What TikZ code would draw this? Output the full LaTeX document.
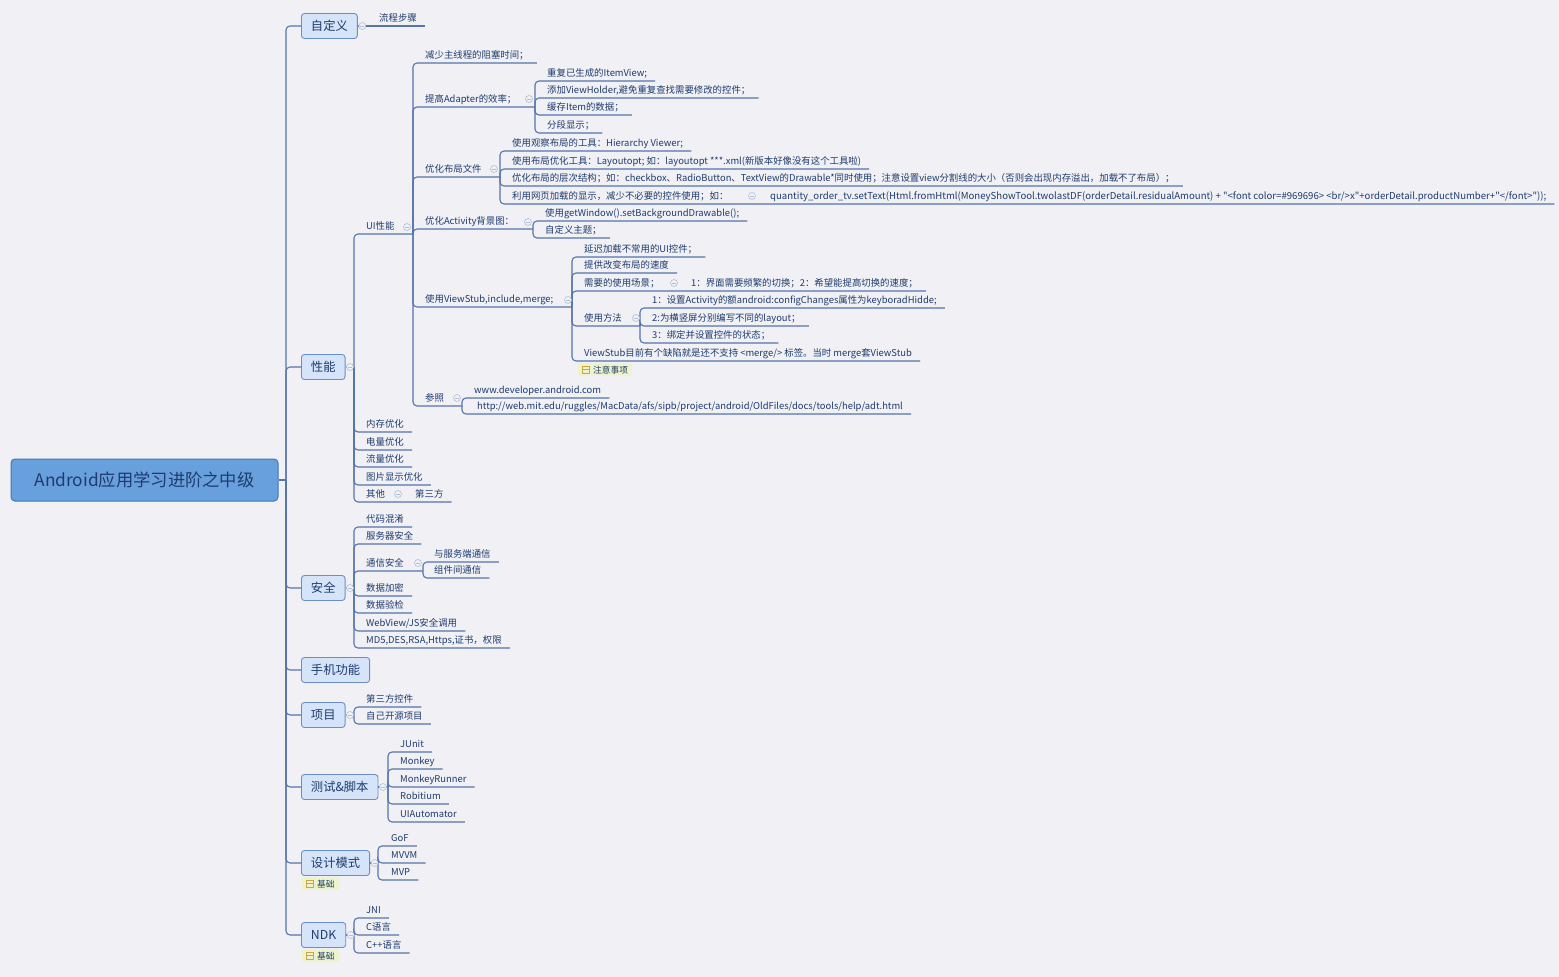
\documentclass[tikz,border=0pt]{standalone}
\usepackage{fontspec}
\setmainfont{Noto Sans CJK SC}
\newfontfamily\plainfont{Noto Sans CJK SC}
\definecolor{bgC}{HTML}{F0F0F5}
\definecolor{lineC}{HTML}{5675AA}
\definecolor{txtC}{HTML}{1E3C6E}
\definecolor{topicF}{HTML}{D5E4F8}
\definecolor{topicD}{HTML}{6A8FC8}
\definecolor{rootF}{HTML}{68A0DD}
\definecolor{rootD}{HTML}{4275B5}
\definecolor{foldC}{HTML}{AFC0DA}
\definecolor{tagC}{HTML}{EDF4CB}
\definecolor{iconC}{HTML}{CFA444}
\tikzset{
  link/.style={draw=lineC,line width=1.1pt,rounded corners=4pt},
  leaf/.style={anchor=south west,inner xsep=0pt,inner ysep=2pt,text height=7pt,text depth=2pt,
    text=txtC,font=\fontsize{9.4}{11}\selectfont},
  topic/.style={anchor=west,draw=topicD,fill=topicF,line width=.9pt,rounded corners=3pt,
    minimum height=25pt,inner xsep=9.5pt,text=txtC,font=\fontsize{12.3}{14}\selectfont},
  rootbox/.style={draw=rootD,fill=rootF,line width=1pt,rounded corners=4pt,minimum width=267pt,
    minimum height=42pt,text=txtC,font=\fontsize{17.3}{20}\selectfont},
  fold/.style={circle,draw=foldC,fill=bgC,line width=.6pt,inner sep=0pt,minimum size=7pt,
    path picture={\draw[foldC,line width=.6pt] ([xshift=-2pt]path picture bounding box.center)
      -- ([xshift=2pt]path picture bounding box.center);}},
  tag/.style={anchor=north west,fill=tagC,inner xsep=4pt,inner ysep=2.5pt,text=txtC,
    font=\fontsize{8.7}{10}\selectfont}
}
\newcommand{\tagicon}[1]{%
  \draw[iconC,line width=.7pt] ([xshift=4pt,yshift=-3.5pt]#1.west) rectangle ([xshift=11pt,yshift=3.5pt]#1.west);
  \draw[iconC,line width=.7pt] ([xshift=4pt]#1.west) -- ([xshift=11pt]#1.west);}

\begin{document}
\begin{tikzpicture}[x=1pt,y=-1pt]
\path[use as bounding box,fill=bgC] (0,0) rectangle (1559,977);

% root and main topics
\node[rootbox] (root) at (144.5,480) {Android应用学习进阶之中级};
\coordinate (rootJ) at (286,480);
\node[topic] (tCustom) at (301,26) {自定义};
\node[topic] (tPerf) at (301,367) {性能};
\node[topic] (tSafe) at (301,588) {安全};
\node[topic] (tPhone) at (301,670) {手机功能};
\node[topic] (tProj) at (301,715) {项目};
\node[topic] (tTest) at (301,787) {测试\&脚本};
\node[topic] (tDesign) at (301,863) {设计模式};
\node[topic] (tNdk) at (301,935) {NDK};
\draw[link] (root.east) -- (rootJ);
\foreach \t in {tCustom,tPerf,tSafe,tPhone,tProj,tTest,tDesign,tNdk}
  \draw[link] (rootJ) |- (\t.west);

% 自定义
\node[leaf] (flow) at (379,26) {流程步骤};
\draw[link] (tCustom.east) -- ([xshift=8pt]flow.south east);

% 性能
\coordinate (perfJ) at (354,367);
\draw[link] (tPerf.east) -- (perfJ);
\node[leaf] (uiPerf) at (366,234) {UI性能};
\coordinate (uiJ) at (413,234);
\draw[link] (perfJ) |- (uiJ);
\foreach \n/\y/\s in {mem/432/内存优化,power/450/电量优化,traffic/467/流量优化,image/485/图片显示优化}{
  \node[leaf] (\n) at (366,\y) {\s};
  \draw[link] (perfJ) |- ([xshift=8pt]\n.south east);
}
\node[leaf] (other) at (366,502) {其他};
\node[leaf] (third) at (415,502) {第三方};
\draw[link] (perfJ) |- ([xshift=8pt]third.south east);

% UI性能
\node[leaf] (reduce) at (425,63) {减少主线程的阻塞时间；};
\draw[link] (uiJ) |- ([xshift=8pt]reduce.south east);
\node[leaf] (adapter) at (425,107) {提高Adapter的效率；};
\coordinate (adapterJ) at (535,107);
\draw[link] (uiJ) |- (adapterJ);
\foreach \n/\y/\s in {repeat/81/重复已生成的ItemView;,holder/98/添加ViewHolder{,}避免重复查找需要修改的控件；,
    cache/115/缓存Item的数据；,segment/133/分段显示；}{
  \node[leaf] (\n) at (547,\y) {\s};
  \draw[link] (adapterJ) |- ([xshift=8pt]\n.south east);
}
\node[leaf] (layout) at (425,177) {优化布局文件};
\coordinate (layoutJ) at (500,177);
\draw[link] (uiJ) |- (layoutJ);
\node[leaf] (hier) at (512,151) {使用观察布局的工具：Hierarchy Viewer;};
\node[leaf] (opt) at (512,169) {使用布局优化工具：Layoutopt; 如：layoutopt ***.xml(新版本好像没有这个工具啦)};
\node[leaf] (level) at (512,186) {优化布局的层次结构；如：checkbox、RadioButton、TextView的Drawable*同时使用；注意设置view分割线的大小（否则会出现内存溢出，加载不了布局）；};
\node[leaf] (web) at (512,204) {利用网页加载的显示，减少不必要的控件使用；如：};
\node[leaf,font=\fontsize{9.6}{11}\plainfont] (code) at (770,204) {quantity\_order\_tv.setText(Html.fromHtml(MoneyShowTool.twolastDF(orderDetail.residualAmount) + "<font color=\#969696> <br/>x"+orderDetail.productNumber+"</font>"));};
\foreach \n in {hier,opt,level}
  \draw[link] (layoutJ) |- ([xshift=8pt]\n.south east);
\draw[link] (layoutJ) |- ([xshift=8pt]code.south east);
\node[leaf] (activity) at (425,229) {优化Activity背景图：};
\coordinate (activityJ) at (533,229);
\draw[link] (uiJ) |- (activityJ);
\node[leaf] (window) at (545,221) {使用getWindow().setBackgroundDrawable();};
\node[leaf] (theme) at (545,238) {自定义主题；};
\foreach \n in {window,theme}
  \draw[link] (activityJ) |- ([xshift=8pt]\n.south east);
\node[leaf] (stub) at (425,307) {使用ViewStub,include,merge;};
\coordinate (stubJ) at (572,307);
\draw[link] (uiJ) |- (stubJ);
\node[leaf] (delay) at (584,257) {延迟加载不常用的UI控件；};
\node[leaf] (speed) at (584,273) {提供改变布局的速度};
\node[leaf] (scene) at (584,291) {需要的使用场景；};
\node[leaf] (sceneInfo) at (691,291) {1：界面需要频繁的切换；2：希望能提高切换的速度；};
\node[leaf] (usage) at (584,326) {使用方法};
\coordinate (usageJ) at (640,326);
\node[leaf] (stubNote) at (584,361) {ViewStub目前有个缺陷就是还不支持 <merge/> 标签。当时 merge套ViewStub};
\foreach \n in {delay,speed,sceneInfo,stubNote}
  \draw[link] (stubJ) |- ([xshift=8pt]\n.south east);
\draw[link] (stubJ) |- (usageJ);
\node[leaf] (use1) at (652,308) {1：设置Activity的额android:configChanges属性为keyboradHidde;};
\node[leaf] (use2) at (652,326) {2:为横竖屏分别编写不同的layout；};
\node[leaf] (use3) at (652,343) {3：绑定并设置控件的状态；};
\foreach \n in {use1,use2,use3}
  \draw[link] (usageJ) |- ([xshift=8pt]\n.south east);
\node[tag] (noteTag) at (578,363) {\hspace*{11pt}注意事项};
\tagicon{noteTag}
\node[leaf] (ref) at (425,406) {参照};
\coordinate (refJ) at (462,406);
\draw[link] (uiJ) |- (refJ);
\node[leaf] (dev) at (474,398) {www.developer.android.com};
\node[leaf] (mit) at (477,414) {http://web.mit.edu/ruggles/MacData/afs/sipb/project/android/OldFiles/docs/tools/help/adt.html};
\foreach \n in {dev,mit}
  \draw[link] (refJ) |- ([xshift=8pt]\n.south east);

% 安全
\coordinate (safeJ) at (354,588);
\draw[link] (tSafe.east) -- (safeJ);
\foreach \n/\y/\s in {obf/527/代码混淆,server/544/服务器安全,encrypt/596/数据加密,verify/613/数据验检,
    webjs/631/{WebView/JS安全调用},md5/648/{MD5,DES,RSA,Https,证书，权限}}{
  \node[leaf] (\n) at (366,\y) {\s};
  \draw[link] (safeJ) |- ([xshift=8pt]\n.south east);
}
\node[leaf] (comm) at (366,571) {通信安全};
\coordinate (commJ) at (423,571);
\draw[link] (safeJ) |- (commJ);
\node[leaf] (commServer) at (434,562) {与服务端通信};
\node[leaf] (commInner) at (434,578) {组件间通信};
\foreach \n in {commServer,commInner}
  \draw[link] (commJ) |- ([xshift=8pt]\n.south east);

% 项目
\coordinate (projJ) at (354,715);
\draw[link] (tProj.east) -- (projJ);
\foreach \n/\y/\s in {widget/707/第三方控件,own/724/自己开源项目}{
  \node[leaf] (\n) at (366,\y) {\s};
  \draw[link] (projJ) |- ([xshift=8pt]\n.south east);
}

% 测试&脚本
\coordinate (testJ) at (388,787);
\draw[link] (tTest.east) -- (testJ);
\foreach \n/\y/\s in {junit/752/JUnit,monkey/769/Monkey,runner/787/MonkeyRunner,robitium/804/Robitium,uiauto/822/UIAutomator}{
  \node[leaf] (\n) at (400,\y) {\s};
  \draw[link] (testJ) |- ([xshift=8pt]\n.south east);
}

% 设计模式
\coordinate (designJ) at (378,863);
\draw[link] (tDesign.east) -- (designJ);
\foreach \n/\y/\s in {gof/846/GoF,mvvm/863/MVVM,mvp/880/MVP}{
  \node[leaf] (\n) at (391,\y) {\s};
  \draw[link] (designJ) |- ([xshift=8pt]\n.south east);
}
\node[tag] (designTag) at (302,877) {\hspace*{11pt}基础};
\tagicon{designTag}

% NDK
\coordinate (ndkJ) at (354,935);
\draw[link] (tNdk.east) -- (ndkJ);
\foreach \n/\y/\s in {jni/918/JNI,clang/935/C语言,cpp/953/C++语言}{
  \node[leaf] (\n) at (366,\y) {\s};
  \draw[link] (ndkJ) |- ([xshift=8pt]\n.south east);
}
\node[tag] (ndkTag) at (302,949) {\hspace*{11pt}基础};
\tagicon{ndkTag}

% fold marks
\foreach \t in {tCustom,tPerf,tSafe,tProj,tTest,tDesign,tNdk}
  \node[fold] (f\t) at ([xshift=4.5pt]\t.east) {};
\node[fold] (fUi) at (407,227) {};
\node[fold] (fOther) at (398,494) {};
\node[fold] (fAdapter) at (529,99) {};
\node[fold] (fLayout) at (494,169) {};
\node[fold] (fWeb) at (752,196) {};
\node[fold] (fActivity) at (528,222) {};
\node[fold] (fStub) at (568,300) {};
\node[fold] (fScene) at (674,283) {};
\node[fold] (fUsage) at (636,318) {};
\node[fold] (fRef) at (457,398) {};
\node[fold] (fComm) at (418,563) {};
\end{tikzpicture}
\end{document}
